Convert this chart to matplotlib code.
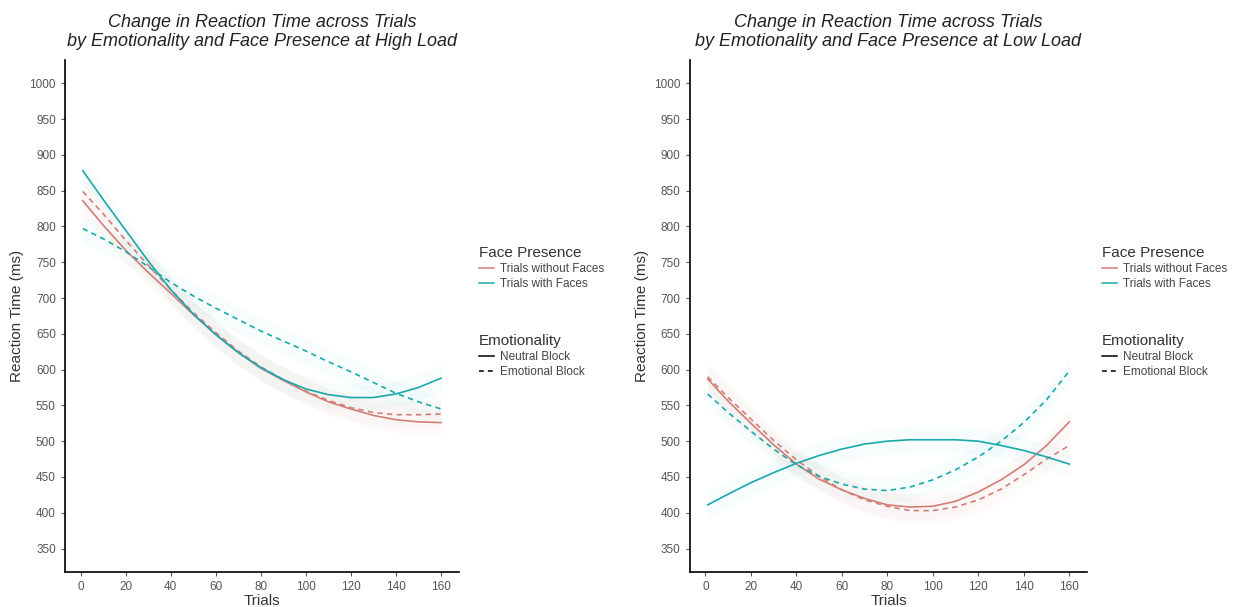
import matplotlib
matplotlib.use("Agg")
import matplotlib.pyplot as plt
from matplotlib.lines import Line2D
import numpy as np

plt.rcParams['font.family'] = ['Liberation Sans', 'DejaVu Sans']

# fitted reaction times (ms) at these trial numbers
trials = [1, 10, 20, 30, 40, 50, 60, 70, 80, 90, 100, 110, 120, 130, 140, 150, 160]

# high load
high_noface_neutral = [836, 802, 767, 736, 707, 677, 649, 624, 602, 585, 569, 555, 545, 536, 530, 527, 526]
high_noface_emotional = [849, 818, 781, 746, 712, 680, 652, 626, 604, 586, 570, 557, 547, 540, 537, 537, 538]
high_face_neutral = [878, 838, 795, 752, 712, 678, 649, 624, 603, 586, 573, 565, 561, 561, 566, 575, 588]
high_face_emotional = [797, 783, 765, 744, 722, 703, 686, 670, 654, 640, 626, 611, 597, 582, 567, 555, 545]

# low load
low_noface_neutral = [587, 556, 525, 495, 468, 447, 432, 420, 411, 408, 409, 416, 429, 446, 467, 494, 527]
low_noface_emotional = [590, 561, 531, 501, 474, 451, 432, 418, 409, 403, 403, 408, 418, 433, 453, 475, 494]
low_face_neutral = [411, 426, 442, 456, 469, 480, 489, 496, 500, 502, 502, 502, 500, 494, 487, 478, 468]
low_face_emotional = [566, 540, 514, 489, 467, 451, 440, 433, 431, 436, 446, 460, 478, 500, 526, 558, 598]

band = 18  # half-width of the smoothing band (ms)

face_labels = ["Trials without Faces", "Trials with Faces"]
block_labels = ["Neutral Block", "Emotional Block"]
titles = ["Change in Reaction Time across Trials\nby Emotionality and Face Presence at High Load",
          "Change in Reaction Time across Trials\nby Emotionality and Face Presence at Low Load"]

red = "#D27E77"
cyan = "#1AA9AB"
dash = (0, (3.2, 2.6))

panels = [
    [(high_noface_neutral, red, "-"), (high_noface_emotional, red, dash),
     (high_face_neutral, cyan, "-"), (high_face_emotional, cyan, dash)],
    [(low_noface_neutral, red, "-"), (low_noface_emotional, red, dash),
     (low_face_neutral, cyan, "-"), (low_face_emotional, cyan, dash)],
]

fig = plt.figure(figsize=(12.47, 6.07), dpi=100)
ax_pos = [[0.052, 0.058, 0.316, 0.843], [0.553, 0.058, 0.319, 0.843]]
legend_x = [0.380, 0.880]

x = np.array(trials)
for k, series in enumerate(panels):
    ax = fig.add_axes(ax_pos[k])
    for vals, col, ls in series:
        v = np.array(vals)
        ax.fill_between(x, v - band, v + band, color=col, alpha=0.03, lw=0)
        ax.plot(x, v, color=col, ls=ls, lw=1.2)

    ax.set_xlim(-6.95, 167.95)
    ax.set_ylim(317.5, 1032.5)
    ax.set_xticks(range(0, 161, 20))
    ax.set_yticks(range(350, 1001, 50))
    for s in ["top", "right"]:
        ax.spines[s].set_visible(False)
    for s in ["left", "bottom"]:
        ax.spines[s].set_linewidth(1.2)
        ax.spines[s].set_color("black")
    ax.tick_params(colors="#555555", labelsize=8.5, length=3, width=0.8)
    ax.set_xlabel("Trials", fontsize=11, color="#333333", labelpad=1)
    ax.set_ylabel("Reaction Time (ms)", fontsize=11, color="#333333", labelpad=4)
    ax.set_title(titles[k], fontsize=13, style="italic", color="#222222",
                 pad=10, linespacing=1.15)

    face_handles = [Line2D([], [], color=red, lw=1.1), Line2D([], [], color=cyan, lw=1.1)]
    block_handles = [Line2D([], [], color="black", lw=1.1, ls="-"),
                     Line2D([], [], color="black", lw=1.1, ls=dash)]
    leg1 = fig.legend(face_handles, face_labels, title="Face Presence",
                      loc="upper left", bbox_to_anchor=(legend_x[k], 0.602),
                      frameon=False, fontsize=8.5, title_fontsize=11,
                      alignment="left", handlelength=1.3, handletextpad=0.5,
                      labelspacing=0.25, borderaxespad=0)
    leg2 = fig.legend(block_handles, block_labels, title="Emotionality",
                      loc="upper left", bbox_to_anchor=(legend_x[k], 0.457),
                      frameon=False, fontsize=8.5, title_fontsize=11,
                      alignment="left", handlelength=1.3, handletextpad=0.5,
                      labelspacing=0.25, borderaxespad=0)
    for leg in (leg1, leg2):
        leg.get_title().set_color("#333333")
        for t in leg.get_texts():
            t.set_color("#444444")

fig.savefig("out.png", dpi=100, facecolor="white")
